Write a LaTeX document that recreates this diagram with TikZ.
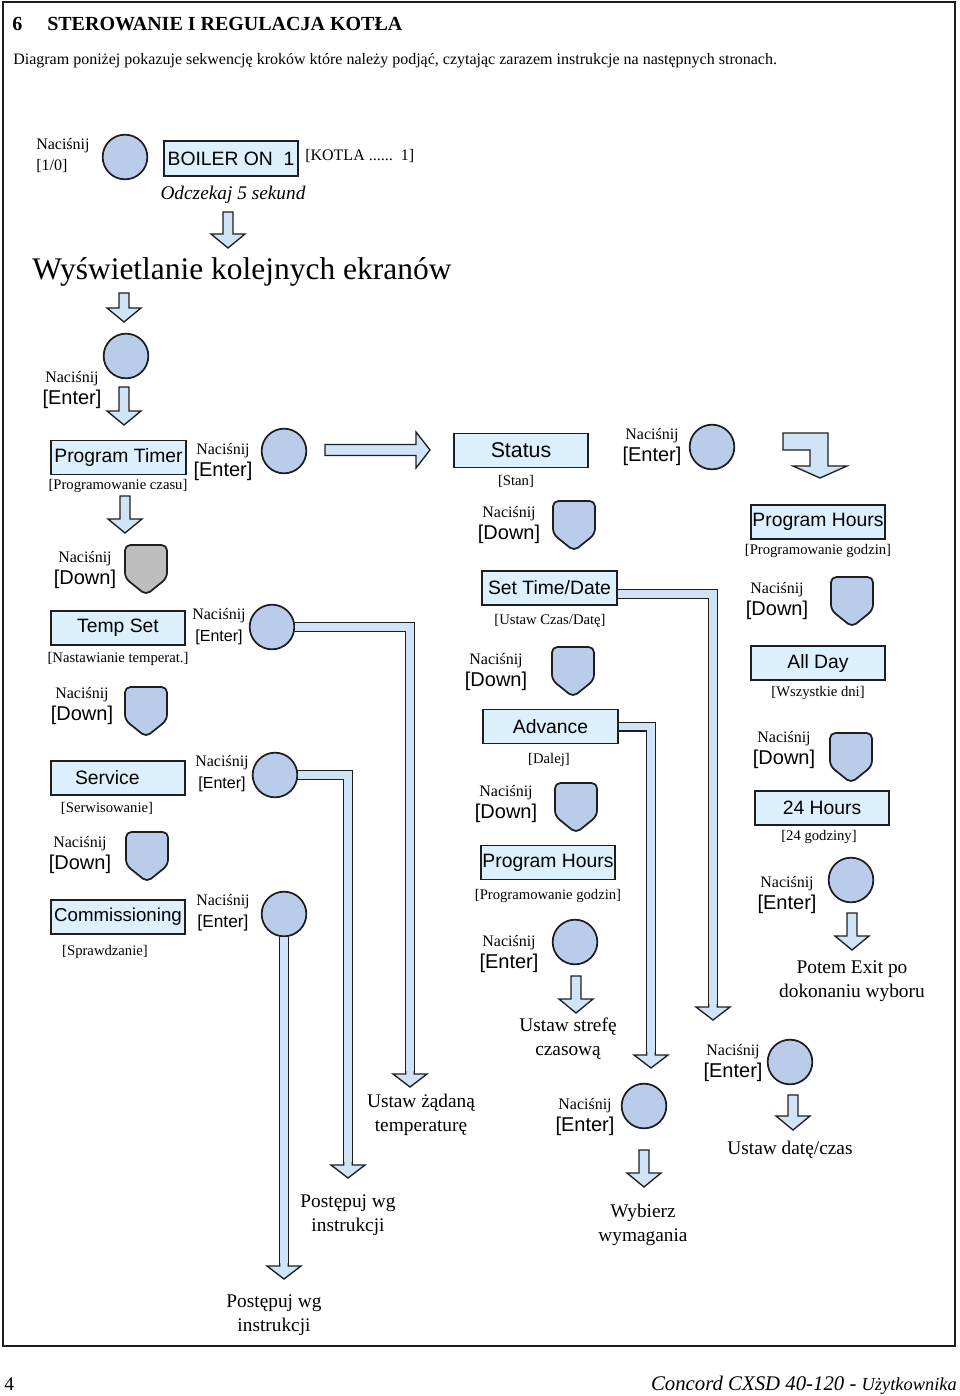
\documentclass[tikz,border=0pt]{standalone}
\usepackage{fontspec}
\setmainfont{Liberation Serif}
\newfontfamily\arial{Liberation Sans}
\usepackage{tikz}
\usetikzlibrary{positioning,calc}
\definecolor{linec}{HTML}{1E1E1E}
\definecolor{scrfill}{HTML}{DDF0FE}
\definecolor{btnfill}{HTML}{B9CCEA}
\definecolor{greykey}{HTML}{BEBEBE}
\definecolor{pipefill}{HTML}{D0E4F8}
\tikzset{
  scr/.style={draw=linec, fill=scrfill, line width=1.3pt, minimum width=101pt, minimum height=25.5pt, inner sep=0pt, font=\arial\fontsize{14.5}{17}\selectfont},
  btn/.style={circle, draw=linec, fill=btnfill, line width=1.3pt, minimum size=33.5pt, inner sep=0pt},
  press/.style={align=center, inner sep=0pt, font=\fontsize{12}{16.5}\selectfont},
  tag/.style={inner sep=0pt, font=\fontsize{11}{13}\selectfont},
  result/.style={align=center, inner sep=0pt, font=\fontsize{14.5}{18}\selectfont},
  pipe/.style={draw=linec, line width=1pt, double=pipefill, double distance=5.5pt},
  blk/.style={draw=linec, fill=pipefill, line width=1pt, line join=miter},
  keyshape/.style={draw=linec, line width=1.3pt, rounded corners=4pt},
  pipehead/.pic={
    \fill[pipefill] (-4.3,-3) -- (-4.3,0) -- (-17,0) -- (0,13) -- (17,0) -- (4.3,0) -- (4.3,-3) -- cycle;
    \draw[linec, line width=1pt] (-4.3,-3) -- (-4.3,0) -- (-17,0) -- (0,13) -- (17,0) -- (4.3,0) -- (4.3,-3);
  },
}
\newcommand{\press}[2][15]{Naciśnij\\{\arial\fontsize{#1}{#1}\selectfont[#2]}}
\newcommand{\blkdown}[3]{%
  \draw[blk] (#1-5,#2) -- (#1+5,#2) -- (#1+5,#3-14) -- (#1+17,#3-14) -- (#1,#3) -- (#1-17,#3-14) -- (#1-5,#3-14) -- cycle;}
\newcommand{\downkey}[3][btnfill]{%
  \draw[keyshape, fill=#1] (#2-21,#3-8) -- (#2-21,#3-25) -- (#2+21,#3-25) -- (#2+21,#3+8) -- (#2,#3+25) -- (#2-21,#3+8) -- cycle;}

\begin{document}
\begin{tikzpicture}[x=0.75pt, y=-0.75pt]
\useasboundingbox (0,0) rectangle (960,1396);
\draw[linec, line width=1.5pt] (3,2) rectangle (955,1346);
% heading
\node[anchor=west, inner sep=0pt, font=\bfseries\fontsize{15}{18}\selectfont] (secno) at (12,24) {6};
\node[anchor=west, inner sep=0pt, font=\bfseries\fontsize{15}{18}\selectfont] (sectitle) at (47,24) {STEROWANIE I REGULACJA KOTŁA};
\node[anchor=west, inner sep=0pt, font=\fontsize{12}{14}\selectfont] (intro) at (13,61) {Diagram poniżej pokazuje sekwencję kroków które należy podjąć, czytając zarazem instrukcje na następnych stronach.};

% start
\node[press, align=left, font=\fontsize{12}{15.75}\selectfont, anchor=west] (p10) at (36,156) {Naciśnij\\{}[1/0]};
\node[btn] (onoff) at (125,157) {};
\node[scr, minimum height=26pt] (boiler) at (231,158.5) {BOILER ON\ \ 1};
\node[anchor=west, inner sep=0pt, font=\fontsize{12}{14}\selectfont] (kotla) at (305,156) {[KOTLA ......\ \ 1]};
\node[result, font=\itshape\fontsize{14.5}{18}\selectfont] (wait5) at (233,195) {Odczekaj 5 sekund};
\blkdown{228}{212}{248}
\node[anchor=west, inner sep=0pt, font=\fontsize{23.6}{28}\selectfont] (screens) at (32,272) {Wyświetlanie kolejnych ekranów};
\blkdown{124}{293}{322}
\node[btn] (enter0) at (126,356) {};
\node[press] (pe0) at (72,390) {\press{Enter}};
\blkdown{124}{387}{425}

% column 1
\node[scr] (ptimer) at (118.5,457.5) {Program Timer};
\node[tag] (ptimertag) at (118,486) {[Programowanie czasu]};
\node[press] (ptpress) at (223,462) {\press{Enter}};
\node[btn] (ptbtn) at (284,451) {};
\draw[blk] (325,444.5) -- (416,444.5) -- (416,432) -- (430,450) -- (416,468) -- (416,455.5) -- (325,455.5) -- cycle;
\blkdown{125}{496}{533}
\node[press] (tsdown) at (85,570) {\press{Down}};
\downkey[greykey]{146}{570}
\node[scr] (tempset) at (118,628) {Temp Set};
\node[tag] (tempsettag) at (118,659) {[Nastawianie temperat.]};
\node[press] (tspress) at (219,627) {\press[12]{Enter}};
\node[btn] (tsbtn) at (272,627) {};
\node[press] (svdown) at (82,706) {\press{Down}};
\downkey{146}{712}
\node[scr] (service) at (118,778) {\hspace*{-16pt}Service};
\node[tag] (servicetag) at (107,808) {[Serwisowanie]};
\node[press] (svpress) at (222,774) {\press[12]{Enter}};
\node[btn] (svbtn) at (275,775) {};
\node[press] (cmdown) at (80,855) {\press{Down}};
\downkey{147}{857}
\node[scr, font=\arial\fontsize{14}{17}\selectfont] (commiss) at (118,917) {Commissioning};
\node[tag] (commisstag) at (105,952) {[Sprawdzanie]};
\node[press] (cmpress) at (223,913) {\press[13]{Enter}};
\node[btn] (cmbtn) at (284,914) {};

% column 2
\node[scr, font=\arial\fontsize{16}{18}\selectfont] (status) at (521,450.5) {Status};
\node[tag] (statustag) at (516,481) {[Stan]};
\node[press] (stpress) at (652,447) {\press{Enter}};
\node[btn] (stbtn) at (712,447) {};
\draw[blk] (783,433) -- (828,433) -- (828,466) -- (847,466) -- (820,478) -- (793,466) -- (810,466) -- (810,450) -- (783,450) -- cycle;
\node[press] (stdown) at (509,525) {\press{Down}};
\downkey{574}{526}
\node[scr] (settime) at (549.5,588) {Set Time/Date};
\node[tag] (settimetag) at (550,621) {[Ustaw Czas/Datę]};
\node[press] (sddown) at (496,672) {\press{Down}};
\downkey{573}{672}
\node[scr] (advance) at (550.5,726.5) {Advance};
\node[tag] (advancetag) at (549,760) {[Dalej]};
\node[press] (addown) at (506,804) {\press{Down}};
\downkey{576}{808}
\node[scr] (phours) at (548,862.5) {Program Hours};
\node[tag] (phourstag) at (548,896) {[Programowanie godzin]};
\node[press] (phpress) at (509,954) {\press{Enter}};
\node[btn] (phbtn) at (575,942) {};
\blkdown{576}{976}{1013}
\node[result] (zone) at (568,1039) {Ustaw strefę\\czasową};
\node[press] (advpress) at (585,1117) {\press{Enter}};
\node[btn] (advbtn) at (644,1106) {};
\blkdown{644}{1150}{1187}
\node[result] (choose) at (643,1225) {Wybierz\\wymagania};

% column 3
\node[scr] (phours2) at (818,522) {Program Hours};
\node[tag] (phours2tag) at (818,551) {[Programowanie godzin]};
\node[press] (ph2down) at (777,601) {\press{Down}};
\downkey{852}{602}
\node[scr] (allday) at (818,663) {All Day};
\node[tag] (alldaytag) at (818,693) {[Wszystkie dni]};
\node[press] (addown2) at (784,750) {\press{Down}};
\downkey{851}{758}
\node[scr] (hours24) at (822,808) {24 Hours};
\node[tag] (hours24tag) at (819,837) {[24 godziny]};
\node[press] (h24press) at (787,895) {\press{Enter}};
\node[btn] (h24btn) at (851,880) {};
\blkdown{852}{913}{950}
\node[result] (exit) at (852,981) {Potem Exit po\\dokonaniu wyboru};
\node[press] (sdpress) at (733,1063) {\press{Enter}};
\node[btn] (sdbtn) at (790,1062) {};
\blkdown{793}{1095}{1130}
\node[result] (setdate) at (790,1150) {Ustaw datę/czas};

% results of the long pipes
\node[result] (settemp) at (421,1115) {Ustaw żądaną\\temperaturę};
\node[result] (follow1) at (348,1215) {Postępuj wg\\instrukcji};
\node[result] (follow2) at (274,1315) {Postępuj wg\\instrukcji};

% pipes
\coordinate (tgt1) at (410,1074);
\coordinate (tgt2) at (348,1165);
\coordinate (tgt3) at (284,1266);
\coordinate (tgt4) at (713,1007);
\coordinate (tgt5) at (651,1055);
\draw[pipe] (tsbtn.east) -| (tgt1);
\draw[pipe] (svbtn.east) -| (tgt2);
\draw[pipe] (cmbtn.south) -- (tgt3);
\draw[pipe] ([yshift=-4.5pt]settime.east) -| (tgt4);
\draw[pipe] (advance.east) -| (tgt5);
\foreach \t in {tgt1,tgt2,tgt3,tgt4,tgt5}
  \pic at (\t) {pipehead};

% footer
\node[anchor=base west, inner sep=0pt, font=\fontsize{14.5}{17}\selectfont] (pageno) at (4,1390) {4};
\node[anchor=base east, inner sep=0pt, font=\itshape\fontsize{15.6}{18}\selectfont] (footer) at (957,1390) {Concord CXSD 40-120 - {\fontsize{13.8}{16}\selectfont Użytkownika}};
\end{tikzpicture}
\end{document}
